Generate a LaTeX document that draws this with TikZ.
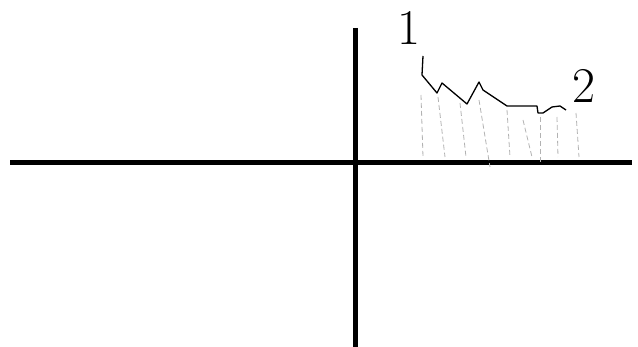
\documentclass[tikz,border=0pt]{standalone}
\usepackage{tikz}
\tikzset{
  axisline/.style={line width=5pt, draw=black},
  sketchline/.style={line width=1.3pt, draw=black, line join=round},
  dropline/.style={line width=0.8pt, draw=black!30, dash pattern=on 5pt off 3pt},
  handdigit/.style={font=\fontsize{50}{50}\selectfont, inner sep=0pt},
}
\begin{document}
\begin{tikzpicture}[x=1pt,y=-1pt]
\useasboundingbox (0,0) rectangle (638,347);
% axes
\draw[axisline] (10,163) -- (632,163);
\draw[axisline] (355,28) -- (355,347);
% drop lines under the curve
\foreach \xa/\ya/\xb/\yb in {421/95/423/157, 438/97/445/157, 460/103/466/157, 479/100/490/167,
  507/110/510/157, 523/120/532/157, 540/117/540/163, 557/117/558/157, 576/113/579/157}
  \draw[dropline] (\xa,\ya) -- (\xb,\yb);
% the curve
\draw[sketchline] (423,56) -- (422,75) -- (437,93) -- (442,83) -- (467,104) -- (479,82)
  -- (483,90) -- (507,106) -- (537,106) -- (538,113) -- (543,113) -- (552,107) -- (560,106) -- (566,110);
% end labels
\node[handdigit] (lblone) at (409,28) {1};
\node[handdigit] (lbltwo) at (584,86) {2};
\end{tikzpicture}
\end{document}
